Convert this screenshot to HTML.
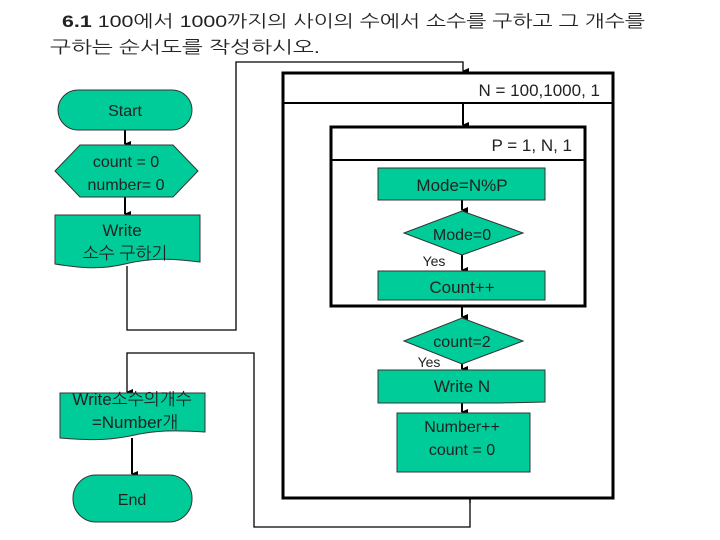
<!DOCTYPE html>
<html><head><meta charset="utf-8"><style>
html,body{margin:0;padding:0;background:#fff;}
svg{display:block;}
text{font-family:"Liberation Sans","NanumGothic","Noto Sans CJK KR",sans-serif;fill:#222;}
</style></head><body>
<svg width="720" height="540" viewBox="0 0 720 540" xmlns="http://www.w3.org/2000/svg">
<defs><marker id="a" markerWidth="8" markerHeight="8" refX="4" refY="7" orient="auto" markerUnits="userSpaceOnUse"><path d="M1,1 L7,1 L4,8 z" fill="#000"/></marker></defs>
<text x="62" y="27" font-size="17" textLength="583" lengthAdjust="spacingAndGlyphs"><tspan font-weight="bold">6.1</tspan> 100에서 1000까지의 사이의 수에서 소수를 구하고 그 개수를</text>
<text x="50" y="53" font-size="17" textLength="270" lengthAdjust="spacingAndGlyphs">구하는 순서도를 작성하시오.</text>

<g fill="none" stroke="#000" stroke-width="1.3">
<polyline points="127,266 127,330 236,330 236,62 463,62 463,71" marker-end="url(#a)"/>
<polyline points="470,499 470,503 470,503"/>
<polyline points="470,499 470,527 254,527 254,353 127,353 127,392" marker-end="url(#a)"/>
</g>
<g stroke="#000" stroke-width="2" fill="none">
<line x1="125" y1="130" x2="125" y2="144" marker-end="url(#a)"/>
<line x1="125" y1="197" x2="125" y2="214" marker-end="url(#a)"/>
<line x1="132" y1="438" x2="132" y2="474" marker-end="url(#a)"/>
<line x1="463" y1="104" x2="463" y2="125" marker-end="url(#a)"/>
<line x1="462" y1="200" x2="462" y2="210" marker-end="url(#a)"/>
<line x1="462" y1="255" x2="462" y2="270" marker-end="url(#a)"/>
<line x1="462" y1="307" x2="462" y2="317" marker-end="url(#a)"/>
<line x1="462" y1="364" x2="462" y2="369" marker-end="url(#a)"/>
<line x1="462" y1="403" x2="462" y2="412" marker-end="url(#a)"/>
</g>

<rect x="283" y="73" width="330" height="425" fill="none" stroke="#000" stroke-width="3"/>
<line x1="283" y1="103" x2="613" y2="103" stroke="#000" stroke-width="2"/>
<text x="600" y="96" font-size="17" text-anchor="end">N = 100,1000, 1</text>
<rect x="331" y="127" width="254" height="179" fill="none" stroke="#000" stroke-width="3"/>
<line x1="331" y1="160" x2="585" y2="160" stroke="#000" stroke-width="2"/>
<text x="572" y="151" font-size="17" text-anchor="end">P = 1, N, 1</text>

<g fill="#00cc99" stroke="#333" stroke-width="1">
<rect x="58" y="90" width="134" height="40" rx="20"/>
<polygon points="55,171 80,145 173,145 198,171 173,197 80,197"/>
<path d="M55,215 H200 V262 C170,258 150,258 125,264 C100,270 80,268 55,264 Z"/>
<path d="M60,393 H205 V432 C175,430 155,430 130,436 C105,441 85,440 60,438 Z"/>
<rect x="73" y="475" width="119" height="47" rx="23"/>
<rect x="378" y="168" width="167" height="32"/>
<polygon points="404,233 462,211 523,233 462,255"/>
<rect x="378" y="271" width="167" height="29"/>
<polygon points="404,341 462,318 523,341 462,364"/>
<path d="M378,370 H545 V402 L500,403 H378 Z"/>
<rect x="397" y="413" width="133" height="59"/>
</g>
<g font-size="16" text-anchor="middle">
<text x="125" y="116">Start</text>
<text x="126" y="167">count = 0</text>
<text x="126" y="190">number= 0</text>
<text x="122" y="236" font-size="17">Write</text>
<text x="125" y="259" font-size="17">소수 구하기</text>
<text x="132" y="405" font-size="17">Write소수의개수</text>
<text x="135" y="428" font-size="17">=Number개</text>
<text x="132" y="505">End</text>
<text x="462" y="191" font-size="17">Mode=N%P</text>
<text x="462" y="240">Mode=0</text>
<text x="462" y="293" font-size="17">Count++</text>
<text x="462" y="347">count=2</text>
<text x="462" y="392" font-size="17">Write N</text>
<text x="462" y="432">Number++</text>
<text x="462" y="455">count = 0</text>
<text x="434" y="266" font-size="14">Yes</text>
<text x="429" y="367" font-size="14">Yes</text>
</g>
</svg>
</body></html>
